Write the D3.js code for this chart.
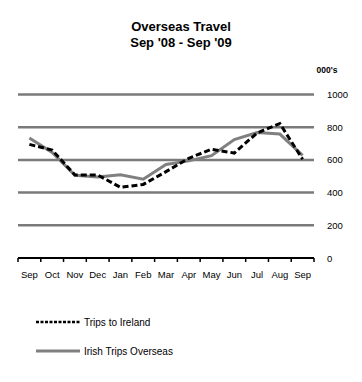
<!DOCTYPE html>
<html><head><meta charset="utf-8">
<script src="https://cdn.jsdelivr.net/npm/d3@7"></script>
<style>body{margin:0;background:#fff}svg{display:block;font-family:Arial,"Liberation Sans",sans-serif}</style>
</head><body>
<svg id="c" width="362" height="382"></svg>
<script>
const months = ["Sep","Oct","Nov","Dec","Jan","Feb","Mar","Apr","May","Jun","Jul","Aug","Sep"];
const tripsToIreland = [695,660,508,508,432,450,528,610,665,642,765,822,604];
const irishTripsOverseas = [734,645,506,496,509,482,572,594,626,724,767,758,628];
const yTicks = [0,200,400,600,800,1000];

const svg = d3.select("#c");
const L = 18, R = 314, T = 94.5, B = 258;
const x = d3.scaleBand().domain(d3.range(months.length)).range([L, R]);
const y = d3.scaleLinear().domain([0,1000]).range([B, T]);

svg.append("text").attr("x",181).attr("y",31).attr("text-anchor","middle")
  .attr("font-size",13).attr("font-weight","bold").text("Overseas Travel");
svg.append("text").attr("x",181).attr("y",47).attr("text-anchor","middle")
  .attr("font-size",13).attr("font-weight","bold").text("Sep '08 - Sep '09");
svg.append("text").attr("x",327).attr("y",73).attr("text-anchor","middle")
  .attr("font-size",8.5).attr("font-weight","bold").text("000's");

// gridlines
svg.append("g").selectAll("line").data(yTicks.filter(d=>d>0)).join("line")
  .attr("x1",L).attr("x2",R).attr("y1",d=>y(d)).attr("y2",d=>y(d))
  .attr("stroke","#7a7a7a").attr("stroke-width",2.5);

// right axis labels
const ya = d3.axisRight(y).tickValues(yTicks).tickFormat(d3.format("d")).tickSize(0).tickPadding(0);
const gy = svg.append("g").attr("transform",`translate(327,0)`).call(ya);
gy.select(".domain").remove();
gy.selectAll("text").attr("font-size",9.5).attr("font-family","Arial, sans-serif").attr("fill","#000");

// x axis
const gx = svg.append("g").attr("transform",`translate(0,${B})`);
gx.append("line").attr("x1",L).attr("x2",R).attr("stroke","#000").attr("stroke-width",2);
gx.selectAll("line.tk").data(d3.range(months.length+1)).join("line").attr("class","tk")
  .attr("x1",i=>L+i*x.step()).attr("x2",i=>L+i*x.step()).attr("y1",0).attr("y2",4)
  .attr("stroke","#000").attr("stroke-width",1.5);
const xa = d3.axisBottom(x).tickFormat(i=>months[i]).tickSize(0).tickPadding(13);
const gxl = svg.append("g").attr("transform",`translate(0,${B})`).call(xa);
gxl.select(".domain").remove();
gxl.selectAll("text").attr("font-size",9.5).attr("font-family","Arial, sans-serif").attr("fill","#000");

const line = d3.line().x((d,i)=>x(i)+x.bandwidth()/2).y(d=>y(d));
svg.append("path").datum(irishTripsOverseas).attr("d",line).attr("fill","none")
  .attr("stroke","#808080").attr("stroke-width",3);
svg.append("path").datum(tripsToIreland).attr("d",line).attr("fill","none")
  .attr("stroke","#000").attr("stroke-width",3).attr("stroke-dasharray","6,3");

// legend
const lg = svg.append("g");
lg.append("line").attr("x1",36).attr("x2",80).attr("y1",322).attr("y2",322)
  .attr("stroke","#000").attr("stroke-width",2.5).attr("stroke-dasharray","3,1.5");
lg.append("text").attr("x",84).attr("y",325.5).attr("font-size",10).text("Trips to Ireland");
lg.append("line").attr("x1",36).attr("x2",80).attr("y1",351).attr("y2",351)
  .attr("stroke","#808080").attr("stroke-width",3);
lg.append("text").attr("x",84).attr("y",354.5).attr("font-size",10).text("Irish Trips Overseas");
</script>
</body></html>
